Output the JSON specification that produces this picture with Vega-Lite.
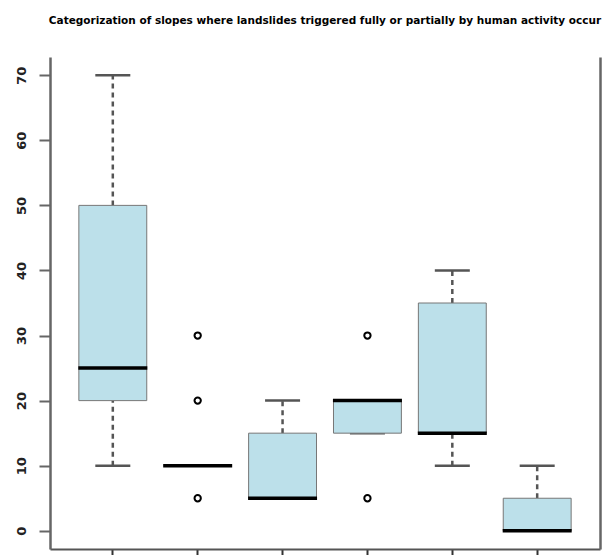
{
  "$schema": "https://vega.github.io/schema/vega-lite/v6.json",
  "width": 550,
  "height": 492,
  "autosize": "none",
  "padding": {"left": 50, "top": 57, "right": 2, "bottom": 6},
  "background": "white",
  "config": {"view": {"stroke": null}, "font": "DejaVu Sans"},
  "title": {
    "text": "Categorization of slopes where landslides triggered fully or partially by human activity occur",
    "font": "DejaVu Sans",
    "fontSize": 10.5,
    "fontWeight": "bold",
    "color": "black",
    "anchor": "middle",
    "offset": 31
  },
  "datasets": {
    "stats": [
      {"group": "1", "lower": 10, "q1": 20, "median": 25, "q3": 50, "upper": 70},
      {"group": "2", "lower": 10, "q1": 10, "median": 10, "q3": 10, "upper": 10},
      {"group": "3", "lower": 5, "q1": 5, "median": 5, "q3": 15, "upper": 20},
      {"group": "4", "lower": 15, "q1": 15, "median": 20, "q3": 20, "upper": 20},
      {"group": "5", "lower": 10, "q1": 15, "median": 15, "q3": 35, "upper": 40},
      {"group": "6", "lower": 0, "q1": 0, "median": 0, "q3": 5, "upper": 10}
    ],
    "outliers": [
      {"group": "2", "value": 5},
      {"group": "2", "value": 20},
      {"group": "2", "value": 30},
      {"group": "4", "value": 5},
      {"group": "4", "value": 30}
    ]
  },
  "encoding": {
    "x": {
      "field": "group",
      "type": "nominal",
      "sort": null,
      "scale": {"paddingInner": 0, "paddingOuter": 0.24},
      "axis": {
        "title": null,
        "labels": false,
        "ticks": true,
        "tickSize": 8,
        "tickWidth": 2,
        "tickColor": "#333",
        "domain": true,
        "domainColor": "#555",
        "domainWidth": 2,
        "grid": false
      }
    }
  },
  "layer": [
    {
      "data": {"name": "stats"},
      "mark": {"type": "rule", "color": "#555", "strokeWidth": 2.5, "strokeDash": [5, 4]},
      "encoding": {
        "y": {"field": "lower", "type": "quantitative", "scale": {"domain": [-2.8, 72.8], "nice": false, "zero": false},
          "axis": {
            "orient": "left",
            "values": [0, 10, 20, 30, 40, 50, 60, 70],
            "title": null,
            "grid": false,
            "labelAngle": 270,
            "labelAlign": "center",
            "labelBaseline": "bottom",
            "labelFont": "DejaVu Sans",
            "labelFontSize": 13,
            "labelFontWeight": "bold",
            "labelColor": "#222",
            "labelPadding": 11,
            "tickSize": 11,
            "tickWidth": 2,
            "tickColor": "#666",
            "domainColor": "#666",
            "domainWidth": 2.5
          }},
        "y2": {"field": "q1"}
      }
    },
    {
      "data": {"name": "stats"},
      "mark": {"type": "rule", "color": "#555", "strokeWidth": 2.5, "strokeDash": [5, 4]},
      "encoding": {
        "y": {"field": "q3", "type": "quantitative", "scale": {"domain": [-2.8, 72.8], "nice": false, "zero": false},
          "axis": {
            "orient": "right",
            "title": null,
            "labels": false,
            "ticks": false,
            "grid": false,
            "domain": true,
            "domainColor": "#666",
            "domainWidth": 2.5
          }},
        "y2": {"field": "upper"}
      }
    },
    {
      "data": {"name": "stats"},
      "mark": {"type": "tick", "color": "#555", "size": 35, "thickness": 2.5, "opacity": 1},
      "encoding": {
        "y": {"field": "lower", "type": "quantitative", "scale": {"domain": [-2.8, 72.8], "nice": false, "zero": false}, "axis": null}
      }
    },
    {
      "data": {"name": "stats"},
      "mark": {"type": "tick", "color": "#555", "size": 35, "thickness": 2.5, "opacity": 1},
      "encoding": {
        "y": {"field": "upper", "type": "quantitative", "scale": {"domain": [-2.8, 72.8], "nice": false, "zero": false}, "axis": null}
      }
    },
    {
      "data": {"name": "stats"},
      "mark": {"type": "bar", "width": {"band": 0.8}, "fill": "#bce0ea", "stroke": "#777", "strokeWidth": 1, "opacity": 1},
      "encoding": {
        "y": {"field": "q1", "type": "quantitative", "scale": {"domain": [-2.8, 72.8], "nice": false, "zero": false}, "axis": null},
        "y2": {"field": "q3"}
      }
    },
    {
      "data": {"name": "stats"},
      "mark": {"type": "tick", "color": "black", "size": 69, "thickness": 3.5, "opacity": 1},
      "encoding": {
        "y": {"field": "median", "type": "quantitative", "scale": {"domain": [-2.8, 72.8], "nice": false, "zero": false}, "axis": null}
      }
    },
    {
      "data": {"name": "outliers"},
      "mark": {"type": "point", "shape": "circle", "filled": false, "stroke": "black", "strokeWidth": 2, "size": 40, "opacity": 1},
      "encoding": {
        "y": {"field": "value", "type": "quantitative", "scale": {"domain": [-2.8, 72.8], "nice": false, "zero": false}, "axis": null}
      }
    }
  ],
  "resolve": {"axis": {"y": "independent"}}
}
